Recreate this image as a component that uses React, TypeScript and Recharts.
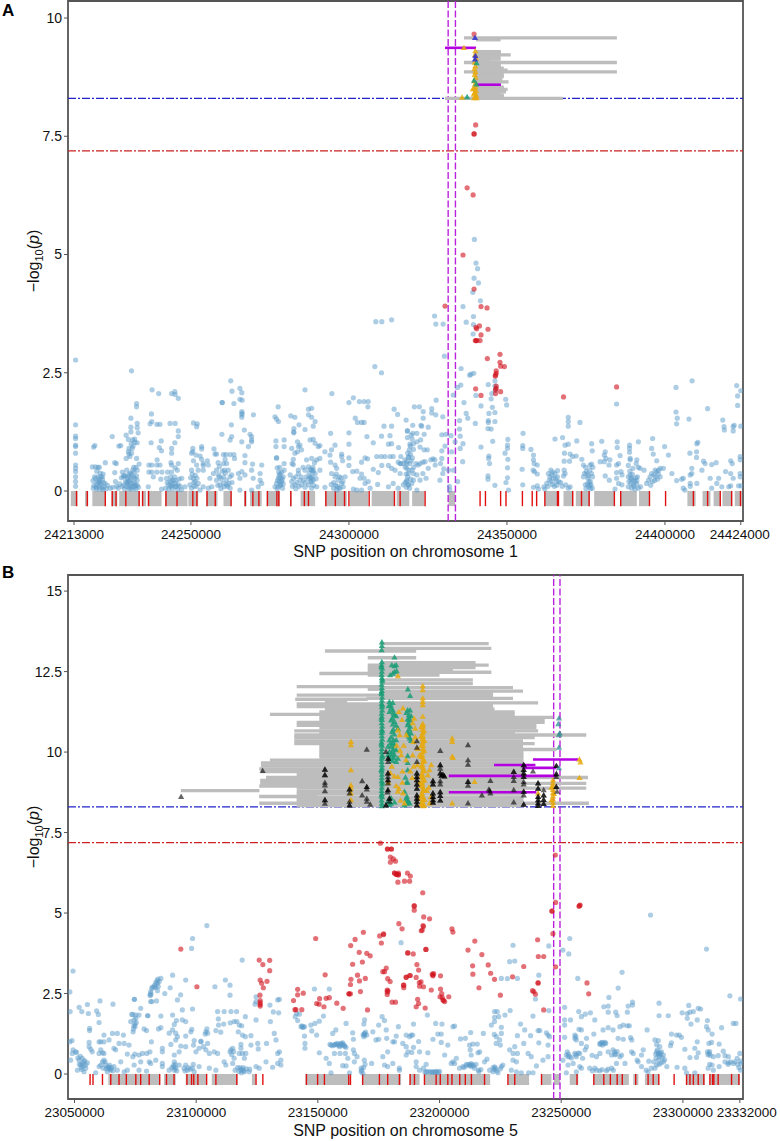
import React from "react";
import { ScatterChart, Scatter, XAxis, YAxis, ReferenceLine, ReferenceArea } from "recharts";

type P = number[];
const FONT = "'Liberation Sans', Arial, sans-serif";

// ---------- Panel A (chromosome 1) : positions are kb after chr1Start ----------
const chr1Start = 24213000;
const chr1Ticks = [24213000, 24250000, 24300000, 24350000, 24400000, 24424000];
const chr1YTicks = [0, 2.5, 5, 7.5, 10];
const chr1Blue: P[] = [
[.5,2.77],[.5,1.4],[.5,1.16],[.5,1.11],[.5,.97],[.5,.94],[.5,.8],[.5,.55],[.5,.48],[.5,.41],[.5,.3],[.5,.2],[.5,.1],
[5.8,.51],[6.8,.51],[7.6,.5],[8,.5],[6.2,.93],[6.6,.96],[7.2,.42],[8.3,.38],[9.2,.36],[9.9,.6],[6,.22],[6.3,.12],[6.8,.26],[7,.08],[7.4,.2],[7.8,.1],[8.1,.24],[8.5,.14],[8.8,.06],[9,.25],[9.4,.08],[9.8,.16],[10.2,.05],[10.6,.12],
[12.1,1.15],[14.2,.95],[14.8,.96],[12.9,.6],[13.4,.58],[12.9,.39],[13.1,.2],[13.5,.1],[14,.06],[14.5,.15],[15,.28],[15.3,.4],[15.8,.33],[16.3,.2],[16.6,.09],[17,.15],[17.4,.05],[17.5,.35],[11.5,.06],[12.3,.08],
[18.2,2.54],[19.8,1.85],[19.8,1.78],[18,1.54],[18,1.35],[18,1.25],[20,1.43],[20,1.34],[20.3,1.23],[16.5,1.18],[17.2,1.09],[18.6,1.08],[19.3,1.03],[20,1.02],[17.4,.9],[17.2,.83],[17.4,.78],[17.7,.73],[16.5,.69],[19.8,.69],[20.6,.57],[16.7,.44],[18.6,.44],[20,.44],[18.2,.34],[15.6,.3],[19.3,.27],[17.7,.23],[20,.23],[16.7,.18],[18.6,.16],[19.6,.13],[17.5,.09],[18.8,.06],[20.4,.08],
[24.7,2.14],[26.8,2.06],[30.9,2.06],[31.9,2.1],[32,2.04],[33,1.96],[24.5,1.63],[24.1,1.42],[24.6,1.47],[26.2,1.41],[27.2,1.41],[30.4,1.43],[32,1.43],[33,1.27],[33,1.15],[27.6,1.06],[24.4,1.02],[31.9,1.02],[27,.92],[27.7,.85],[30.9,.9],[30.9,.8],[26.3,.66],[23.7,.55],[24.6,.55],[26.2,.55],[27.2,.55],[30.7,.6],[30.9,.55],[33,.58],[23.7,.4],[24.6,.4],[26.2,.4],[27.8,.4],[29.6,.4],[30.9,.4],[32,.49],[32.7,.44],[27.5,.25],[29.3,.27],[30.4,.2],[31.4,.23],[32,.16],[33,.13],[29.9,.13],[30.9,.11],[34.1,.27],[32,.09],[25.1,.3],[23.5,.09],[27.7,.04],
[37.8,1.44],[39,1.42],[38.8,1.36],[37.6,.9],[37.6,.83],[37.2,.8],[40.4,.94],[40.4,.89],[38.6,.76],[39.9,.74],[40.4,.67],[37.8,.64],[42.2,.64],[40.9,.58],[38.8,.55],[37.2,.44],[40.9,.54],[42.5,.55],[39.3,.44],[40.9,.44],[37.8,.27],[38.3,.2],[36.7,.13],[37.2,.06],[35.1,.09],[39.3,.16],[40.9,.09],[39.9,.02],[42.5,.06],
[44.3,.89],[44.6,.78],[45.1,.78],[47.3,.77],[48.1,.77],[49.4,.77],[50.6,.77],[47.8,.67],[50.8,.69],[47.3,.58],[48.3,.58],[48.8,.44],[45.1,.44],[44.1,.37],[45.7,.34],[47.3,.3],[48.3,.23],[49.4,.3],[45.1,.23],[46.2,.13],[43,.27],[43.6,.09],[48.3,.13],[47.3,.16],[49.9,.34],
[49.6,2.33],[50,2.11],[52.5,2.17],[53.1,2.08],[46.9,1.87],[46.9,1.87],[50.6,1.85],[52.5,1.94],[53.2,1.92],[53.1,1.68],[53.1,1.61],[53.1,1.56],[53.2,1.64],[56.8,1.61],[49.8,1.4],[53.9,1.29],[46.8,1.2],[49.9,1.15],[49.4,1.08],[53.1,1.04],[55.7,1.2],[56.2,1.15],[56.2,1.08],[55.2,.94],[56.2,1.04],[54.1,.75],[54.1,.6],[56.5,.57],[59.4,.55],[56.2,.44],[53.1,.41],[54.1,.34],[52.5,.27],[52,.37],[56.7,.27],[58.9,.37],[58.9,.23],[59.4,.16],[58.3,.09],[56.2,.02],[52.5,.02],[49.4,.06],
[64.6,1.78],[63.6,1.57],[64.1,1.52],[64.7,1.47],[68.6,1.59],[69.9,1.56],[71.2,1.4],[73.1,2.14],[81.6,2.06],[74.2,1.73],[75.2,1.75],[74.2,1.61],[75.2,1.56],[76.3,1.47],[75.7,1.37],[73.1,1.3],[69.6,1.32],[69.6,1.23],[69.5,1.25],
[63.9,1.06],[66.5,1.08],[63.9,.94],[66.5,.94],[64.1,.7],[64.1,.7],[64.3,.49],[66.5,.58],[66.5,.44],[65.2,.36],[64.7,.27],[64.1,.16],[65.7,.2],[64.7,.09],[66.2,.3],[66,.06],[63.6,.09],[65,.2],[65.4,.12],[64.4,.22],
[68.9,.9],[69,.58],[69.4,.56],[69.9,.8],[70.7,.83],[69.4,.67],[68.4,.34],[68.9,.2],[69.4,.27],[69.9,.13],[71,.37],[71.5,.23],[72,.13],[71,.44],[73.6,.66],[74.2,.51],[75.2,.69],[75.7,.44],[76.8,.66],[76.3,.37],[74.7,.3],[75.7,.23],[74.2,.13],[76.8,.09],[75.2,.06],[77.8,.44],[73.1,.44],[70.7,1.04],[71,.94],[71.5,.97],[72,.87],[74.7,1.08],[75.7,1.09],[76.3,1.01],[77.3,.94],[77.8,.96],[79.4,.83],[77.8,.69],[75.2,.44],[75.6,.4],[75,.28],[74.9,.2],[75.8,.12],
[81.2,1.22],[82.6,.97],[81.5,.87],[81,.76],[84.7,.78],[84.7,.73],[85,.64],[81.2,.61],[82.6,.55],[83.1,.48],[81.5,.37],[82.6,.3],[83.6,.23],[84.7,.16],[82.1,.06],[84.2,.06],[85.2,.09],[79.4,.08],[85.8,.3],
[87,1.23],[87,.99],[87,.7],[87,.54],[88.4,1.97],[87,1.87],[90.3,1.89],[91.8,1.89],[93.1,1.89],[93,1.78],[89,1.54],[89.7,1.45],[91,1.45],[91.8,1.45],[92.7,1.15],[94.7,1.02],[91,.61],[92.1,.7],[92.9,.68],[88.2,.41],[89.5,.42],[91,.36],[91.8,.27],[90.5,.27],[93.1,.2],[92.1,.16],[88.4,.04],[89.5,.02],[91,.02],[93.7,.06],
[95.5,3.58],[97.4,3.58],[100.5,3.62],[95.2,2.63],[97.3,2.5],[98.1,1.37],[100.5,1.37],[97.3,1.16],[100,1.17],[99.5,.99],[100.5,1],[102.4,1.62],[101.3,1.73],[105.1,1.5],[105.5,1.27],[105.5,1.13],[102.7,.92],[95.8,.73],[97.2,.73],[98.4,.73],[100,.73],[101,.73],[103.4,.73],[94.7,.46],[96.3,.39],[97.4,.54],[99.5,.54],[100.5,.48],[101.6,.44],[102.6,.61],[103.4,.58],[103.2,.37],[104.7,.66],[105.3,.58],[105.3,.48],[105.8,.37],[105.3,.23],[104.2,.13],[105.8,.13],[102.6,.06],[101,.16],[99.5,.09],[96.1,.14],
[107.7,1.78],[109.3,1.78],[110.5,1.68],[110.5,1.54],[113.2,1.74],[113.2,1.65],[114.5,1.61],[110,1.37],[109.8,1.39],[105.5,1.27],[107.2,1.39],[107.2,1.22],[108.5,1.22],[109.7,1.08],[110.8,1.2],[112.1,1.35],[108.5,1.04],[106.3,.99],[107.4,1],[109.5,.93],[106.1,.87],[107.4,.88],[106.5,.78],[105.8,.71],[108.2,.58],[105.3,.62],[104.2,.58],[103.2,.58],[104.8,.51],[106.3,.58],[106,.44],[107.4,.37],[108.5,.34],[110.4,.37],[110.4,.61],[111.1,.62],[109.5,.58],[108.9,.55],[110.8,.87],[111.8,.87],[105.3,.2],[105.8,.13],[104.8,.18],[106.9,.16],[108.5,.02],[107.4,.23],[109.5,.23],[111.4,.27],[116.4,.85],[117.4,.95],[113.6,.68],[114.2,.66],[112.9,.66],[116.4,.69],[116,.58],[117,.47],[116.7,.37],[112.1,.48],[114.3,.55],[116.4,1.19],[117.7,1.2],[119.3,1.17],[120.6,1.04],[119.5,.83],[123,.62],[118.5,.44],[120.1,.44],[115.8,.23],[121.4,.2],[118.8,.1],[118.9,.02],[123.1,1.0],[122.2,1.16],[122.2,.9],
[114.1,3.7],[114.5,3.53],[116.8,3.53],[123.1,3.9],[126.4,3.69],[124.1,3.57],[126.4,3.52],[126.3,3.32],[117.2,2.85],[122.5,2.59],[126.5,2.49],[125.2,2.45],[125.6,2.47],[122.4,2.24],[121.3,2.19],[120,2.03],[114.6,1.92],[123.4,1.87],[124.1,1.64],[124.6,1.54],[122,1.49],[127,1.43],[122,1.31],[116.7,1.57],
[126.7,5.32],[127.2,4.82],[127.7,4.7],[126.6,4.5],[128,4.4],[128.6,4.02],[126.2,4.2],
[131.1,2.25],[133.2,2.33],[133.2,2.22],[133.3,2.13],[132.2,2.06],[127.2,2.02],[132,1.95],[128.8,1.8],[132.4,1.77],[136.6,1.94],[136.9,1.82],[131.3,1.64],[133.2,1.66],[131.1,1.49],[131.1,1.45],[133.2,1.47],[131,1.32],[132,1.31],[132.5,1.05],[128.8,.93],[131.3,.74],[131.2,.69],[131.5,.58],[131,.32],[131,.25],[133.2,.12],
[137.3,1.09],[137.2,.97],[137.2,.9],[136.4,.8],[137.3,.67],[137.2,.49],[137.2,.28],[136.7,.18],[137.5,.02],[142.1,1.22],[142,.96],[142,.9],[141.8,.46],[142,.13],[144.6,.88],[145.4,.76],[145.4,.66],[145.6,.58],[146.6,.55],[145.3,.44],[145.7,.41],[146.6,.36],[145.4,.08],[146.6,.11],[147,.04],
[150.1,.37],[150.6,.3],[151.2,.34],[151.7,.27],[152.2,.37],[152.7,.2],[150.4,.23],[153,.43],[153,.3],[155.1,.44],[155.4,.37],[154.9,.32],[155.6,.13],[156.4,.06],[157,.09],[149.6,.16],[148.7,.09],[149,.04],[152.2,1.1],[154.6,1.13],[155.4,.97],[156.4,.99],[155.2,.8],[157,.78],[157.8,.73],[158.9,.74],[155.1,.63],[156.8,.63],[159.1,1.06],[156.4,1.37],[156.4,1.47],[156.4,1.56],[160.1,1.45],[160.7,.67],[161.2,.55],
[163.8,1],[164,.85],[163.3,.55],[163.8,.57],[161.5,.37],[162.1,.41],[163.2,.44],[163.8,.37],[164.1,.3],[162.6,.27],[161.2,.3],[161.8,.13],[162.9,.09],[163.6,.13],[164,.06],[163.4,.2],
[167,1.05],[168.1,.83],[167.8,.76],[168.3,.69],[167.8,.62],[169.6,.66],[166.5,.62],[169.3,.55],[168.1,.32],[169.4,.23],[171.9,1.04],[171.9,.92],[172.8,.75],[172.3,.58],[171.7,.55],[173.1,.41],[171.7,.39],[171.7,.27],[172.3,.16],[173.4,.13],[171.2,.04],[173.4,.34],[171.7,1.84],
[175.8,.97],[175.8,.9],[175.8,.82],[176,.69],[176,.66],[178.6,1.04],[175.4,.54],[178.1,.66],[177.9,.58],[178.6,.5],[179.1,.48],[176,.34],[175.4,.3],[176.5,.27],[177,.23],[177.5,.2],[176.2,.16],[175.4,.09],[178.1,.15],[178.6,.06],[177,.13],[179.3,.09],[180.4,.44],
[183.1,1.11],[182.8,.9],[183.3,.78],[186.9,.94],[188.1,.76],[184.4,.64],[183.9,.44],[184.4,.41],[183.5,.34],[182.8,.37],[182.3,.3],[181.8,.23],[181.2,.16],[185.5,.48],[186.5,.48],[189.2,.37],[190.5,2.19],[195.6,2.33],[190.5,1.67],[190.9,1.54],[190.7,1.42],[194.6,1.52],[200.5,1.74],
[194.9,.8],[197,.83],[197,.71],[197.1,1],[197.4,1.03],[195.5,.48],[195.5,.37],[195,.34],[192.8,.27],[192.3,.25],[190.7,.22],[193.3,.02],[192.8,.06],[195,.16],[195,.1],[197.1,.16],[199.2,.63],[198.7,.44],[199.7,.58],[201.8,.06],[201.8,.56],[203.2,.6],[201.3,.27],[204,.27],[206.2,.41],[207.8,.37],[207.8,.64],[208.3,.58],[210.8,.73],[210.8,.66],[210.8,.37],[210.8,.3],[208.6,.27],[207.8,.11],[210.3,.11],[211.1,.11],[207.2,.09],[205,.09],[203.4,.16],
[205.3,1.5],[205.7,1.36],[205.8,1.29],[208.6,1.36],[208.9,1.39],[208.6,1.27],[211,1.37],[209.7,2.23],[211,2.12],[210,2.01],[210,1.81]
];
const chr1BlueDense: P[] = [
[6.5,.3],[7.2,.14],[7.6,.3],[8.2,.17],[8.9,.3],[9.3,.18],[6.1,.06],[7.1,.04],[8,.04],[9.2,.03],[8.4,.3],[7.9,.2],
[15.2,.1],[15.8,.12],[16,.04],[16.2,.32],[16.9,.3],[17.2,.2],[17.9,.15],[18.1,.26],[18.4,.1],[18.9,.3],[19.1,.18],[19.3,.1],[19.8,.32],[20,.12],[19.6,.04],[18,.04],[17,.26],[17.8,.38],[19,.4],[19.6,.5],[18.9,.5],
[18.4,.9],[18.1,1.0],[18.7,.95],[18.2,.8],[19.2,1.1],
[29.5,.18],[30,.04],[30.6,.3],[30.9,.22],[31.2,.14],[31.8,.3],[32.3,.22],[32.5,.1],[33.2,.25],[33.6,.1],[30.5,.1],[29,.06],[31.2,.05],[32.8,.03],[34,.03],
[37.4,.36],[37.9,.18],[38.4,.33],[38.9,.27],[38,.1],[36.9,.28],[38.7,.1],
[45.5,.12],[46,.3],[46.6,.25],[46.9,.42],[47.6,.44],[47.9,.38],[46.5,.05],[48.6,.1],[47.5,.09],[49,.16],[50,.18],[46,.52],[45.6,.6],
[64.9,.32],[65.5,.28],[65.1,.5],[65.3,.14],[64.3,.05],[65.7,.4],[66.2,.15],[65.9,.24],[64.8,.4],
[69.1,.1],[70.2,.3],[70.5,.18],[71.2,.1],[71.9,.3],[72.6,.22],[73.2,.18],[73.5,.3],[74.2,.26],[74.4,.38],[74.8,.46],[75.4,.3],[75.2,.2],[75.6,.5],[76.1,.6],[76.6,.26],[72.5,.5],[73.1,.08],[70.2,.05],
[82.2,.18],[82.8,.12],[83.3,.1],[83.8,.06],[84.5,.28],[84,.3],[83,.36],[83.1,.02],[85.1,.2],[81.4,.14],
[105.1,.36],[105.6,.3],[105.2,.08],[106.2,.06],[106.5,.25],[107,.44],[107.5,.5],[106.7,.64],[105.9,.72],[107.1,.7],[105.6,.8],[106.4,.95],[107,1.1],[106.7,1.18],
[151,.2],[151.4,.14],[150,.1],[150.9,.44],[152,.1],[152.4,.27],[152.8,.12],[153.4,.2],[154,.18],[154.5,.1],[151.5,.4],
[161.9,.5],[162.4,.36],[162.8,.32],[163,.2],[162.5,.15],[163.2,.12],[162,.05],[163.4,.05],[164.2,.5],
[175.6,.2],[176.2,.25],[176.7,.35],[177.2,.1],[177.8,.28],[176.4,.06],[177.5,.04],[178.3,.3],[175.9,.42],[176.9,.48],[178.1,.22],
[184,.3],[184.6,.25],[184.9,.36],[183.7,.22],[183,.2],[185,.44],[185.5,.3],[182.5,.12]
];
const chr1Red: P[] = [
[126.6,9.66],[127.1,7.74],[126.6,7.55],[126.6,7.55],[124.4,6.41],[126.3,6.26],[123.1,4.99],[126.6,4.27],[117.4,3.91],[128.8,3.9],[130.7,3.87],[127.2,3.46],[128.3,3.49],[127.4,3.43],[131,3.42],[128.8,3.3],[127,3.18],[127.5,3.18],[127.2,3.18],[128.5,3.18],[130.8,2.8],[134.8,2.89],[134.8,2.72],[135,2.64],[136.2,2.63],[133.6,2.54],[133.6,2.49],[133.4,2.45],[133.3,2.43],[133.6,2.22],[133.6,2.17],[133.4,2.14],[133.4,2.06],[135,2.1],[127.1,2.16],[128.8,2.02],[154.9,1.99],[171.7,2.2]
];
const chr1Orange: P[] = [[127,9.3],[126.9,9.22],[127.2,9.15],[126.8,9.06],[127,8.98],[126.7,8.92],[127,8.86],[126.8,8.8],[127.1,8.74],[126.7,8.67],[126.9,8.6],[127,8.54],[126.6,8.5],[127.2,8.46],[126.8,8.42],[126.5,8.39],[127.3,8.36],[127,8.33],[126.6,8.31],[127.4,8.31],[123.4,9.37],[122.8,8.32],[126.2,8.5]];
const chr1Green: P[] = [[127.4,9.05],[127.3,8.6],[124.4,8.33],[126.6,8.68]];
const chr1Navy: P[] = [[126.9,9.58],[126.9,9.13],[127,9.2]];
const chr1Ld: P[] = [
[9.58,123.4,171.8],[9.54,127.2,135],[9.29,127.2,135.1],[9.25,127.2,135.1],[9.22,127.2,138.2],[9.17,127.2,135],[9.13,127.2,135],[9.1,126.9,131.5],[9.06,123.4,171.8],[9.03,127.2,135],[9,127.2,135],[8.97,127.2,135],[8.94,127.2,136],[8.9,127.2,137.2],[8.86,123.4,171.8],[8.82,127.2,136],[8.79,127.2,136],[8.76,127.2,136],[8.71,127.2,135.5],[8.68,127.2,135.5],[8.65,127.2,137.5],[8.62,127.2,135],[8.57,127.2,135],[8.54,127.2,136],[8.52,127.2,136],[8.49,127.2,137.2],[8.47,127.2,135],[8.44,127.2,136.7],[8.42,127.2,135],[8.4,127.2,132],[8.37,127.2,136],[8.35,127.2,136],[8.32,127.2,135],[8.3,117.4,154.7]
];
const chr1Purple: P[] = [[9.37,117.4,127.2],[8.59,127.2,135.1]];
const chr1Dash = [118.4, 120.7];
const chr1Blocks: P[] = [[-1,1.1],[3.5,4.5],[5.8,10],[11.9,13.7],[14.3,20.9],[21.6,22.8],[23.3,27.7],[28.8,35.9],[36.2,39.3],[41.8,45.4],[47.3,49.9],[53.8,54.6],[55.7,59.4],[61,65.2],[68.4,68.9],[71.7,76.3],[79.4,86.3],[87.3,93.1],[94.2,101.3],[102.1,106.1],[107,110.9],[118.5,120.6],[149,153.3],[154.9,158],[158.8,163.3],[164.6,171.2],[173,178.1],[178.8,182.3],[194.1,196.7],[198.9,201.4],[202.4,204.7],[205.2,208.3],[209.1,211.3]];
const chr1Marks = [.8,4.2,9.9,12.1,13.3,16.4,20.6,21.7,23.6,29.1,32.6,37.6,38.9,42.1,44.7,49.7,54.2,56.6,58.5,61.2,64.2,64.8,68.6,72.9,74.2,79.7,82.7,85.6,87,93.4,101.4,103.2,111.1,128.5,130.2,135,136.7,141.9,145,146.4,149,153,153.3,157.8,160.6,163,171,173,182.1,187.2,196,200.5,204.5,208.1,210.9];

// ---------- Panel B (chromosome 5) : positions are kb after chr5Start ----------
const chr5Start = 23050000;
const chr5Ticks = [23050000, 23100000, 23150000, 23200000, 23250000, 23300000, 23323400];
const chr5TickLabels = ["23050000", "23100000", "23150000", "23200000", "23250000", "23300000", "23332000"];
const chr5YTicks = [0, 2.5, 5, 7.5, 10, 12.5, 15];
const chr5Blue: P[] = [
[-.6,3.2],[-1.9,2.55],[-1.8,1.94],[1.9,2.07],[3,1.94],[5.3,2.16],[5.7,1.88],[9.1,1.96],[9.8,1.85],[10.5,2.27],[15.8,2.17],[10.1,1.6],[6.2,1.42],[6.2,1.35],[-1,1.04],[-1.9,1],[-.6,.75],[.5,.69],[-.9,.64],[.8,.67],[-1.6,.43],[6,.98],[6,.85],[6.7,.77],[7.3,.69],[10.1,1],[10.8,1],[12.1,1],[10.8,.75],[10.1,.64],[11.5,.66],[12.1,.64],
[1.9,.43],[3.2,.49],[3.9,.38],[2.5,.28],[4.6,.28],[3.2,.33],[1.2,.12],[3.9,.07],[5.3,.35],[4.6,.18],[11.5,.38],[12.1,.43],[10.8,.28],[12.8,.28],[14.2,.18],[14.9,.12],[16.2,.23],[13.5,.07],[19,.38],[17.6,.12],[20.4,.07],[21.7,.12],[8.7,.04],[10.1,.23],[14,.22],[14.6,.15],
[12.1,1.21],[15.6,1.26],[17.6,1.26],[20.1,1.21],[14.2,1.06],[16.2,.8],[16.9,.75],[18.3,.95],[20.4,.95],[22.4,.9],[21.7,.62],[24,.54],[24.5,.28],[26.5,.59],[27.2,.38],[27.9,.64],[29.7,.64],[31,.69],[31.3,.33],[29.6,.09],[26.5,.12],
[24.6,2.32],[24.6,2.32],[27.2,2.04],[23.5,1.85],[25.2,1.83],[26.5,1.83],[24,1.85],[23.1,1.63],[24.5,1.68],[25.2,1.73],[24.9,1.47],[24.1,1.31],[30.2,1.81],[30,1.81],[28.6,1.4],[29.6,1.35],[31.6,1],
[40.3,3.07],[45.7,2.92],[39.3,2.68],[43.6,2.46],[42.3,2.3],[37.1,2.5],[31.3,2.45],[31,2.45],[31.3,2.56],[31.8,2.66],[32.7,2.71],[33.4,2.84],[34.1,2.82],[34.8,2.87],[33.4,2.69],[34.1,2.59],[35.5,2.97],[31.8,2.25],[31.3,2.25],[33.7,2.27],
[35.5,1.8],[40.3,1.83],[41.9,1.66],[41,1.54],[44.3,1.99],[44.3,1.68],[45.7,1.63],[48.5,2.02],[48.2,1.39],[47.8,1.31],[45.7,1.18],[42.3,1.16],[41.6,1.06],[35.5,1.44],[34.5,1.4],[40.3,1.37],[38.9,1.27],[41.6,1.27],
[36.1,.8],[36.1,.69],[39.6,.92],[41,.59],[43,.69],[43.7,.87],[45.7,.85],[49.2,1.04],[48.9,.9],[49.9,.69],[51.2,.8],[51.9,1.02],[54.7,.95],[54,.75],[55.4,.64],[58.8,.64],[57.4,.69],[36.1,.33],[33.4,.43],[30.7,.38],[41,.38],[41.6,.18],[41,.12],[45,.18],[46.4,.12],[48.5,.18],[49.2,.07],[38.9,.12],[36.1,.23],[43,.28],[45.7,.28],[51.2,.23],[55.4,.18],[58.1,.12],
[54,1.31],[53.7,1.24],[54.7,1.27],[58.8,1.94],[61.5,1.94],[64.3,1.94],[66.6,1.94],[59.2,1.52],[61.3,1.55],[64,1.59],[65.6,1.63],[66.7,1.63],[67.7,1.52],[68.7,1.5],[59.1,1.71],[58.1,1.35],[60.1,1.3],[62,2.92],[63.9,2.76],[63.9,2.45],[57.7,2.71],[70.2,1.78],[68.9,3.54],[48.5,4.21],[48.1,3.9],[54.4,4.61],
[67.3,1.31],[69,1.21],[70.2,1.16],[72.5,1.19],[68.4,.92],[68.4,.8],[72.5,.9],[75.3,.95],[75.5,.78],[78.9,.95],[67.7,.64],[64.3,.75],[65,.8],[63.9,.69],[65.6,.49],[69,.64],[70.4,.64],[69.8,.49],[65,.33],[62.2,.28],[61.5,.38],[68.4,.12],[69.8,.07],[71.8,.07],[74.6,.23],[75.9,.18],[78.7,.38],[81.4,.21],[83.5,.33],[84.8,.43],[84.8,.28],[84.2,.69],[83.5,.64],[82.8,1.06],[82.1,1.26],[68.8,.15],[69.3,.2],
[74.6,2.4],[74.6,2.25],[74.2,2.17],[84.2,2.32],[83.5,2.3],[80.3,2.14],[81.7,1.93],[83.9,1.9],[80.5,1.63],[74.6,1.68],
[91.3,1.88],[90.7,1.78],[91.7,1.66],[93.1,1.47],[93.8,1.45],[94.5,1.47],[97.1,1.52],[98.8,1.57],[100.6,1.64],[94.5,1.18],[97.5,1.34],[99.5,1.21],[94.7,.95],[94.7,.8],[100.6,.66],[104.7,2.64],[98.6,2.64],[102.3,1.8],[92.4,1.86],
[105.4,.9],[106.8,.9],[108.2,.9],[109.1,.93],[109.9,.9],[110.9,.88],[111.6,.83],[110.2,.97],[108.9,.85],[107.5,.93],[103.4,.49],[104.7,.33],[105.4,.04],[106.1,1.26],[107.4,1.37],[106.8,.64],[109.1,.64],[111.3,.64],[112.3,.49],[110.2,.26],[111.6,.25],[114.3,1.28],[114.6,1.08],[114.6,.75],[115,.64],[116.1,.54],[115,.38],[113,.04],[111.6,1.57],[119.2,1.68],[118.9,1.55],[120.1,1.21],[119.2,1.26],[119.2,1.21],[118.9,1.16],
[117.8,.07],[117.8,.18],[118.5,.02],[119.1,.43],[122.1,.33],[123.9,1.06],[125,1.08],[122.6,1.31],[125,1.52],[126.4,1.78],[127.4,1.66],[128.1,1.37],[128.3,1.11],[130.8,1],[131.5,1],[132.2,1.18],[134.2,4.08],[126.7,.54],[128.7,.69],[127.4,.28],[128.7,.23],[130.8,.33],[133.5,.18],[133.5,.12],[136.3,1.21],[137.7,1.16],[133.1,1.47],[136.3,.85],[137,.69],[134.9,.95],[136.3,.59],
[145,1.83],[139.3,1.55],[148.4,1.57],[151,1.55],[155.5,1.47],[156.2,1.49],[138.3,1.21],[139,1.21],[149.3,1.24],[150.7,1.24],[162.8,1.29],[168,1.26],[172.5,1.23],[175.4,1.26],[173.3,1.16],[174.7,1.06],[173.3,.95],[175,.9],
[139.3,.83],[138.6,.67],[141.4,1.01],[141.8,.69],[145.2,.66],[140.4,.38],[144.5,.3],[143.4,.18],[141.8,.12],[140.4,.23],[147.3,1.08],[150.7,.98],[153.4,.9],[152.1,.59],[155.5,.38],[156.9,.49],[156.2,.33],[154.8,.33],[158.6,1.09],[160.6,1.11],[162.3,.9],[163.7,.93],[165.5,.93],[162.6,.75],[163,.59],[165.8,.66],[166.5,.69],[169.5,.46],[168.5,.38],[162.3,.28],[163,.23],[164.4,.18],[158.2,.18],[159.6,.23],[166.2,.07],[172.6,.14],[172,.07],[175.4,.23],[176,.28],[174,.04],[170.6,.12],
[146,.07],[147,.07],[148,.07],[149,.06],[150,.08],[160,.2],[161,.25],[162,.3],[163,.32],[164,.26],[172,.2],[173,.18],
[172.6,1.94],[173.7,1.94],[172.6,1.76],[174.3,1.78],[176.9,1.83],[179,1.97],[171.3,1.52],[172.6,1.63],[175.4,1.45],[180.2,4],[178.8,3.49],[180.9,3.51],[175.4,2.97],[177.9,2.96],[182,2.97],[183.3,1.55],[185,1.37],[182,1.19],[187.4,1.19],[190.5,1.35],[191.2,1.35],[193.9,1.28],[194.6,1.21],[195.2,1.16],[188.4,1.8],[189.4,2.33],[190.8,3.07],[194.9,3.98],[194.9,1.97],[178.8,.75],[180.9,.85],[180.2,.64],[182,.64],[180.2,.43],[181.6,.38],[186.4,.64],[187.7,.54],[189.8,.25],[192.5,.43],[194.6,.54],[190.8,.97],[194.6,.9],[184.6,.95],[186.6,.04],[181.6,.07],[179.5,.12],[183.6,.04],[188.4,.04],
[203.5,4.21],[200.7,3.85],[203.1,3.73],[206.8,2.97],[201.4,2.07],[201.4,1.68],[201.4,1.52],[203.8,1.68],[201.4,1.14],[205.6,1.21],[206,1.16],[207.2,1.94],[208.3,1.78],[209.9,1.86],[212,1.9],[213.8,1.68],[207.3,1.39],[208.3,1.37],[210.4,1.11],[213.4,1.24],[208.3,.95],[205.6,1.11],[206.2,1.06],[202.5,.69],[202.1,.59],[205.6,.64],[200.7,.43],[202.8,.54],[206.2,.54],[210.4,.85],[209.8,.75],[212.7,.58],[207.6,.64],[208.8,.49],[204.9,.33],[202.8,.28],[207.6,.23],[206.2,.07],[202.1,.04],[208.3,.18],
[215.9,.95],[216.5,.97],[217.5,.95],[218.3,.95],[219.3,2.11],[219.6,2.38],[223.4,2.67],[225,3.16],[217.5,2.09],[219.3,1.92],[222.4,1.92],[223,1.81],[227.2,1.92],[227.5,2.11],[229.3,2.23],[229.3,2.14],[224.1,1.47],[225.5,1.52],[227.2,1.5],[228,1.5],[221.3,1.37],[219.3,1.44],[217.2,1.37],[235.3,1.37],[240.2,2.2],[240.2,1.81],[244,1.81],[223.4,1.11],[225.5,1.08],[228.5,1.13],[229,1.06],[221.3,.75],[222,.69],[219.3,.69],[220.7,.59],[215.9,.64],[214.5,.54],
[228.9,.69],[229.6,.64],[224.8,.59],[224.1,.54],[226.2,.33],[222.7,.33],[220.7,.18],[218.6,.1],[215.9,.1],[213.8,.18],[211.7,.18],[221.4,.12],[233,.59],[231.2,.43],[233.7,.75],[231.6,.38],[233,.23],[234.9,.12],[235.7,.07],[237,.18],[238.5,1.06],[239.9,1.04],[239.2,.92],[240.5,.85],[239.2,.69],[239.9,.64],[241.2,.69],[242,.59],[240.5,.54],[239.9,.43],[242,.38],[243.4,.23],[239.2,.28],[238.5,.18],[245.3,1.24],[247.4,1.21],[248.5,1.21],[249.4,1.14],[245.3,.97],[244.9,.88],[250.8,.77],[252.9,.51],[255.6,.52],[255.9,1],[254.9,.8],[256.3,.66],[247.6,.21],[250.8,.18],[251.5,.04],[254.9,.04],
[249.7,1.9],[251.8,1.88],[252.9,1.92],[254.3,1.94],[252.4,2.13],[256.3,2.04],[257.3,2.02],[251.8,1.73],[253.3,1.55],[255.9,1.68],[260.1,1.66],[259.7,1.47],[260.4,1.37],[265.9,1.44],[262,1.24],[269.3,2.43],[273.7,2.33],[259.7,3.88],[236.7,4.94],[270.7,1.57],[271.8,1.57],[260.7,.95],[261.8,.98],[264.9,.93],[260.1,.69],[260.8,.64],[262.5,.54],[264.5,.57],[266.6,.71],[267.3,.57],[268.7,.54],[273.4,.64],[272.3,.49],[271.4,.38],[274,.33],[267.3,.38],[264.9,.23],[260.4,.18],[262.5,.12],[268.7,.35],[270.7,.33],[273.7,.12],
[144,.06],[145,.08],[166,.12],[167,.14],[236,.4],[238,.38],[261,.3],[262,.28]
];
const chr5BlueDense: P[] = [
[2,.3],[2.8,.2],[3.6,.25],[4.2,.42],[1.4,.5],[2.4,.55],[3,.14],[13,.16],[13.6,.2],[14.4,.28],[15.2,.2],[15.8,.1],[12.6,.38],[11.8,.18],[24.8,.62],[41,.22],[41.4,.3],[40.6,.26],[42,.1],[40,.2],
[45.4,.1],[46.8,.2],[47.6,.15],[48.8,.3],[66,.12],[67,.2],[68,.2],[69.5,.1],[70.6,.16],[67.6,.08],[68.6,.04],[72,.15],
[24.2,1.4],[24.8,1.55],[25.4,1.6],[24.4,1.5],[31.4,2.5],[32,2.7],[33,2.76],[34.4,2.72],[33.9,2.9],[34.3,2.95],[52,1],[53,.85],[54.4,1.4],[64.6,.6],[65.4,.7],
[93.4,1.5],[94,1.46],[105,.92],[106,.88],[107,.92],[108,.95],[109,.88],[110.4,.92],[111,.86],[109.6,.95],[118,.12],[118.8,.2],[119.4,.3],[119,1.24],[119.6,1.3],[118.6,1.22],
[144.5,.06],[146.6,.06],[147.6,.05],[148.6,.08],[149.6,.05],[161,.3],[162.7,.27],[163.5,.29],[165,.3],[172.6,.22],[173.5,.1],[175,.16],
[203,.62],[203.5,.54],[204.2,.5],[206,.6],[207,.65],[212.8,.1],[214.6,.12],[216.8,.14],[219.2,.15],[216,.92],[217,.9],[218,.98],[216.8,.98],[222.4,.62],[223,.7],[222,.6],
[239.5,.75],[240,.6],[240.8,.62],[241.5,.5],[241,.34],[242.5,.44],[239,.5],[240.2,.3],[240.5,.66],[238.8,.62],[261.2,.58],[261,.7],[260.3,.6],[268.6,.3],[269.6,.38],[273.6,.4],[272.5,.3],[273,.2]
];
const chr5Red: P[] = [
[43.7,3.88],[50.3,2.71],[75.9,3.54],[77.4,3.4],[80.2,3.53],[80.2,3.21],[76.3,2.92],[76.9,2.82],[79.1,2.88],[77.6,2.68],[76.2,2.45],[76.3,2.28],[76.3,2.22],[76.3,2.16],[76.3,2.11],
[90,2.28],[91.7,2.63],[91.7,2.46],[94,2.51],[90.6,2],[91,2],[93.4,2],[100.7,2.34],[99.5,2.19],[100.5,2.17],[102.5,2.09],[103.4,2.35],[104.7,2.37],[103,3.08],[99.1,4.21],[107.8,2.2],[110.4,2.04],[112.8,2.49],[112.8,2.49],[113.4,2.49],[113.4,2.78],[113.6,2.94],[117.5,2.56],[117.1,2.89],[119.5,2.97],[116.3,3.07],[114.3,3.41],[113.5,3.99],[115.3,4.18],[117,3.78],[118.7,4.4],[118.3,3.48],[120.1,3.75],[121.5,3.67],[120.4,1.99],
[125.4,4.29],[127,4.35],[127,4.33],[126.1,4.07],[126.7,3.18],[127.4,3.18],[128.1,3.29],[128.7,2.96],[129.7,2.87],[128.5,2.61],[128.5,2.55],[128.5,2.47],[128.8,2.58],[130.5,2.23],[131.9,2.23],[133.3,4.67],[134.6,4.51],[136.9,3.76],[136.3,3],[137.7,3.06],[135.3,2.76],[135.3,2.68],
[143.1,5.63],[139.6,5.22],[139.6,5.22],[139.6,5.09],[143.5,4.88],[145.9,4.82],[143.2,4.61],[143.4,4.58],[142.5,4.45],[142.9,4.47],[155.1,4.51],[155.5,4.41],[144.4,3.87],[144.4,3.87],[137,3.76],[139.2,3.73],[140.7,3.4],[141.4,3.23],[136.3,3.01],[138,3.06],[140.4,3],[147,3.1],[147.3,3.05],[147.6,3.12],[147.3,3.08],[150.4,3.05],[142.4,2.86],[141.7,2.84],[141.8,2.73],[143.4,2.71],[146.6,2.61],[150.4,2.64],[150.9,2.5],[150.2,2.4],[151.1,2.38],[151.4,2.3],[152.1,2.25],[151.7,2.28],[153.8,2.4],[141,2.32],[141.4,2.19],[140.4,2.09],[144.1,2.05],[135.2,2.76],
[161.7,3.85],[164.5,4.13],[167.4,3.71],[163.6,3.36],[170,3.39],[163.7,3.1],[171,3.13],[172.6,2.94],[166.2,2.68],[175,2.45],[180,3.02],[184.6,3.34],[190.3,4.17],[190.6,3.65],[192.8,3.65],[190.5,2.82],[190.5,2.84],[188.2,2.59],[188.7,2.56],[189.4,2.48],[192.8,1.99],[196.2,5.06],[196.2,5.06],[197.7,5.33],[196.6,4.36],[197.7,3.33],[207.3,5.21],[207.8,5.25],[207.5,5.23],[210.6,2.83],[211.3,2.49],
[125.7,7.17],[128.6,6.99],[130.2,6.99],[129.8,6.74],[131,6.68],[129.8,6.58],[131.9,6.61],[131.5,6.24],[132.3,6.2],[133.1,6.24],[133.1,6.18],[136.8,6.24],[138,6.15],[132.9,5.96],[135.6,5.99],[137.7,5.99],[197.6,6.8],
[128.6,6.99],[130.2,6.99],[131.5,6.24],[132.3,6.2],[133.1,6.2]
];
const chr5Green: P[] = [
[126.3,13.41],[126.3,13.3],[126.2,13.17],[126.3,12.8],[126.2,12.7],[126.4,12.6],[126.3,12.5],[126.2,12.4],[126.3,12.3],[126.4,12.2],[126.2,12.1],[126.3,12],[126.3,11.9],[126.2,11.8],[126.4,11.7],[126.3,11.6],[126.2,11.5],[126.3,11.4],[126.4,11.3],[126.2,11.2],[126.3,11.1],[126.3,11],[126.2,10.9],[126.4,10.8],[126.3,10.7],[126.2,10.6],[126.3,10.5],[126.4,10.4],[126.2,10.3],[126.3,10.2],[126.3,10.1],[126.2,10],[126.4,9.9],[126.3,9.8],[126.2,9.7],[126.3,9.6],[126.4,9.5],[126.2,9.4],[126.3,9.3],[126.3,9.2],[126.2,9.1],[126.4,9],[126.3,8.9],[126.2,8.8],[126.3,8.7],[126.4,8.6],[126.2,8.5],[126.3,8.4],[126.3,8.32],
[126.1,12.65],[126.5,12.25],[126.1,11.85],[126.5,11.45],[126.1,11.05],[126.5,10.65],[126.1,10.25],[126.5,9.85],[126.1,9.45],[126.5,9.05],[126.1,8.65],
[131.5,12.94],[130.4,12.7],[132.2,12.7],[131.5,12.67],[130.8,12.44],[129.7,12.39],[131.5,12.49],[132.4,12.52],[137,11.95],[137.9,11.75],
[129.4,11.56],[130.8,11.53],[129.1,11.43],[130.1,11.36],[129.4,11.25],[130.8,11.3],[131.5,11.15],[132.2,11.12],[130.1,10.99],[131.5,10.94],[130.8,10.86],[132.2,10.82],[132.9,10.73],[130.5,10.63],[130.1,10.46],[129.4,10.37],[131.1,10.37],[132.2,10.37],[128.8,10.17],[130.1,10.17],[131.5,10.22],[129.4,10.01],[130.8,10.01],[132.2,10.06],[128.8,9.91],[130.1,9.86],[131.5,9.91],[132.9,9.8],[130.8,9.73],[132.2,9.7],
[130,11.45],[131,11.2],[130.6,11.05],[131,10.7],[131.4,10.55],[130.8,10.28],[129.8,10.27],[131,10.1],[130.2,9.95],[131.2,9.82],[129.6,9.78],
[136.9,11.3],[137.9,11.3],[137.4,11.15],[138.3,11.12],[136.9,11.01],[137.9,10.99],[136.9,10.84],[137.9,10.79],[136.9,10.63],[138.3,10.58],[137.4,10.48],[138.3,10.35],[136.9,9.88],[136.9,9.67],[136.9,9.44],[136,9.21],[136.9,9.05],[135.6,8.77],[136.9,8.51],[137.7,8.41],[135.6,8.35],[136.3,8.56],[128.8,8.47],[130.1,8.57],[131.5,8.44],
[136.4,11.22],[137.5,11.05],[137.2,10.9],[137.6,10.7],[137.1,10.55],[137.8,10.42],[136.4,9.05],[136.6,8.62],[137.2,8.45],[136.6,8.4],[130,8.4],[129.4,8.36]
];
const chr5Teal: P[] = [[199.1,11.05],[198.8,10.87],[199.1,10.53],[199.1,10.14],[199.1,9.5],[199.4,10.58]];
const chr5Orange: P[] = [
[143.1,11.93],[143.1,11.67],[143.1,11.56],[143.1,11.46],[143.1,11.1],[143.1,10.88],[143.3,10.8],[142.9,10.7],[143.1,10.6],[143.2,10.5],[142.9,10.4],[143.1,10.3],[143.3,10.2],[143,10.1],[143.1,10],[142.9,9.9],[143.2,9.8],[143.1,9.7],[143,9.6],[143.2,9.5],[143.1,9.4],[142.9,9.3],[143.2,9.2],[143.1,9.1],[143,9],[143.2,8.9],[143.1,8.8],[142.9,8.7],[143.2,8.6],[143.1,8.5],[143,8.4],[143.2,8.32],
[142.5,10.78],[143.7,10.65],[142.4,10.48],[143.8,10.35],[142.5,10.2],[143.7,10.05],[142.4,9.85],[143.8,9.72],[142.5,9.55],[143.7,9.42],[142.4,9.25],[143.8,9.12],[142.5,8.95],[143.7,8.82],[142.4,8.65],[143.8,8.52],[142.5,8.38],[143.7,8.34],
[207.5,9.77],[207.9,9.68],[207.5,9.2],[196.6,9.13],[196.6,9.03],[196.6,8.93],[196.6,8.83],[196.6,8.73],[196.6,8.63],[196.6,8.53],[196.6,8.43],[196.6,8.33],[196,8.9],[197,8.7],[196,8.5],[190.5,8.72],[155.2,10.42],[155.2,10.32],[155.2,9.86],[155.5,9.82],[164.4,9.08],[155.2,8.41],
[113.6,10.32],[113.6,10.22],[113.6,9.44],[113.6,8.97],[113.6,8.87],[113.6,8.72],[113.6,8.51],[132.9,12.36],[135,11.36],[133.3,11.25],[132.9,10.68],[133.6,10.53],[140,10.73],[140,10.46],[139.3,10.32],[139.6,11.04],[136.3,10.53],[134.3,9.91],[132.9,9.23],[133.3,8.87],[132.9,8.77],[135,8.72],[145.9,9.44],[145.2,9.28],[135.6,8.41],[145.9,8.41],[138,9.4],[141,10.1],
[143.1,12.05],[139,10.9],[134.6,11],[132.4,10.2],[133.8,10.05],[134.8,9.4],[131.4,9.25],[130.4,9.55],[129.8,9.35],[129,9.05],[132.2,8.95],[134,8.5],[139,9.9],[139.4,9.55],[138.8,9.2],[140.9,9.6],[141.8,9.9],[141.9,9.05],[141.6,8.55],[146.6,9.6],[145.6,8.9],[146.4,8.6],[144.8,8.8],[134.7,9.05],[135.3,10.2],[136.2,9.75]
];
const chr5Black: P[] = [
[43.8,8.61],[77.3,9.42],[102.9,9.46],[102.9,9.46],[102.9,9.29],[102.9,9.05],[102.9,8.97],[102.9,8.79],[102.9,8.51],[102.9,8.4],[102.9,8.51],[102.9,9.29],[113,8.46],[113,8.35],[113,8.35],[113,8.84],[113,8.72],[113,8.84],[120.1,10.08],[118.2,9.1],[120.1,8.92],[120.1,8.84],[118.2,8.66],[120.1,8.56],[120.1,8.46],[121.5,8.37],[120.1,8.92],
[128,10.01],[128.9,9.8],[128.9,9.7],[128.9,9.8],[128.8,9.34],[128.8,9.23],[128.8,9.13],[128.8,9.03],[128.8,9.34],[128.8,9.13],[128.8,8.82],[128.6,8.75],[128.8,8.82],[129.4,8.56],[129.4,8.46],[129.4,8.56],[128,8.35],[128,8.35],
[140.7,10.34],[140.7,10.14],[140.7,9.7],[140.7,9.34],[140.7,9.23],[140.7,9.13],[140.7,9],[140.7,8.87],[140.7,8.66],[140.7,8.56],[140.7,8.46],[140.7,8.35],[140.7,9.13],[140.7,8.56],[140.7,8.87],[140.7,9.34],[140.7,8.46],[140.7,9.23],[140.7,9],[140.7,8.66],[140.7,8.35],
[147.3,9.1],[147.3,9],[147.3,9.1],[147.3,8.72],[147.3,8.61],[147.3,8.51],[147.3,8.43],[147.3,8.72],[147.3,8.51],[147.3,8.61],[147.3,8.43],[147.3,9],
[150.3,10.04],[150.3,9.6],[150.3,9.49],[150.3,9.34],[150.8,9.27],[151.4,9.3],[152,9.25],[150.8,9.27],[150.3,9.1],[150.3,9],[150.3,8.76],[150.3,8.64],[150.3,8.5],[150.3,8.76],[150.3,8.64],[150.3,8.5],[150.3,9.6],[150.3,9.34],[151.4,9.3],[152,9.25],
[161.7,10.22],[161.7,9.75],[161.7,9.61],[161.7,9.08],[161.7,8.96],[161.7,9.08],[161.7,8.41],[170.9,9.11],[170.3,8.84],[170.9,8.72],[170.6,8.8],[167.4,8.66],
[180.5,9.39],[180.5,9.23],[180.5,9.11],[180.5,8.82],[180.5,8.44],[180.5,9.39],[184.6,9.6],[184.6,9.45],[184.6,9.34],[184.6,9.23],[184.6,9.08],[184.6,9],[184.6,9.6],[184.6,9.34],[184.6,8.77],[184.6,8.66],[184.6,8.37],[184.6,8.77],[184.6,8.37],[188.4,9.4],[184.6,9.23],[184.6,9.45],
[190.5,9.03],[190.5,8.87],[190.5,8.61],[190.5,8.51],[190.5,8.41],[190.5,8.33],[190.5,8.61],[190.5,8.51],[190.5,8.41],[190.5,9.03],[190.5,8.33],[190.5,8.87],[192.8,8.82],[192.8,8.66],[192.8,8.52],[192.8,8.39],[192.8,8.52],[192.8,8.39],[192.8,8.66],[198,9.57],[198,9.32],[198,9.23],[198,8.92],[198.3,8.77],[198,9.32],[198,8.92],[198,9.57]
];
const chr5Ld: P[] = [
[13.37,126,170.2],[13.22,126,171.3],[13.14,102.9,140.4],[12.93,120.5,140.4],[12.78,126,164.8],[12.7,120.5,170.2],[12.62,120.5,164.8],[12.55,120.5,155.5],[12.48,120.5,171.3],[12.44,100.6,126],[12.39,120.5,150],[12.24,126,163.7],[12.13,126,163.7],[12.03,91.3,126],[12,126,180.2],[11.95,120.5,126],[11.89,126,184.3],[11.82,126,172],[11.77,91.3,126],[11.74,126,172],[11.67,120,180.2],[11.64,90.7,120.5],[11.56,102.9,112],[11.53,126,190.5],[11.5,91.3,172],[11.41,91.3,172],[11.33,102.9,172.6],[11.25,100.6,180.9],[11.17,80.3,180.9],[11.08,100.6,196.7],[11,100.6,193.2],[10.92,91.3,193.2],[10.83,91.3,189.8],[10.75,100.6,189.8],[10.66,90.3,190.5],[10.53,90.3,210.3],[10.6,100.6,181],[10.45,90.3,189.1],[10.35,90.3,184.3],[10.26,90.3,189.1],[10.17,100.6,184.3],[10.08,100.6,198],[10,100.6,184.5],[9.92,100.6,184.5],[9.84,100.6,184.5],[9.75,80.3,184.5],[9.66,76.6,184.5],[9.57,76.6,184.5],[9.48,75.9,184.5],[9.39,76.6,184.5],[9.3,91.3,184.5],[9.21,78.7,211],[9.12,76.3,184.5],[9.03,76.3,210.3],[8.94,75.9,184.5],[8.88,91.3,210.3],[8.8,43.7,76],[8.78,91.3,184.5],[8.7,91.3,184.5],[8.62,75.9,100],[8.6,91.3,184.5],[8.53,91.3,184.5],[8.45,91.3,184.5],[8.41,75.9,211.4],[8.34,91.3,184.5]
];
const chr5Purple: P[] = [[9.77,188.4,207],[9.6,172.4,189.4],[9.51,184,198],[9.26,153.8,198],[8.75,153.8,189.8]];
const chr5Dash = [196.9, 199.5];
const chr5Blocks: P[] = [[13.9,35.2],[36.8,41.6],[45.7,54.4],[56.4,67],[72.9,74.5],[94.9,113],[118.4,134.2],[137.7,141.8],[143.8,170.8],[178.2,186.8],[191.9,196],[197,199.6],[203.5,207],[213.4,227.8],[229.6,231.7],[234.4,240.2],[251.5,259],[261,273.5]];
const chr5Marks = [6.4,7.6,11.5,14.9,18.3,21.3,25.2,27.2,30.7,35,37.8,40.9,46.2,48.1,49,50.7,54.3,58.1,66.7,74.6,77.4,95.3,99.9,102.7,112.7,113.4,118.4,125.3,128.7,133.5,137.9,139.7,143.8,148.6,150.3,153.4,155.1,158.3,160.6,163.1,168.5,178.1,180.9,191.9,206.5,213.4,217.5,220.2,223,225.1,230.6,235.7,237.8,240.1,246.4,251.5,252.9,254.3,256.3,258.6,261.1,262.2,262.7,264.5,270,273];

// ---------- marks ----------
const NoMark = () => null;
const dot = (fill: string, opacity: number) => (p: any) => (
  <circle cx={p.cx} cy={p.cy} r={2.6} fill={fill} fillOpacity={opacity} />
);
const tri = (fill: string, opacity: number) => (p: any) => (
  <path d={`M${p.cx},${p.cy - 3.2}L${p.cx + 3.1},${p.cy + 2.2}L${p.cx - 3.1},${p.cy + 2.2}Z`} fill={fill} fillOpacity={opacity} />
);
const BlueDot = dot("#5b9bc9", 0.5);
const RedDot = dot("#d0101c", 0.6);
const Orange = tri("#e8a90c", 0.85);
const Green = tri("#1b9e77", 0.85);
const Black = tri("#000000", 0.6);
const Navy = tri("#2d2dd0", 0.85);
const Teal = tri("#2f8f8f", 0.75);

interface PanelProps {
  start: number; domain: [number, number]; yDomain: [number, number];
  ticks: number[]; tickLabels?: string[]; yTicks: number[];
  blue: P[]; red: P[]; groups: { data: P[]; shape: any }[];
  ld: P[]; purple: P[]; dash: number[]; blocks: P[]; marks: number[];
  trackBottom: number; top: number; height: number; marginTop: number; axisHeight: number;
  letter: string; chr: number; labelY: number; letterY: number; titleY: number; lastDx: number;
}

function Panel(props: PanelProps) {
  const { start, ticks, yTicks, tickLabels } = props;
  const X = (k: number) => start + k * 1000;
  const pts = (a: P[]) => a.map((d) => ({ x: X(d[0]), y: d[1] }));
  const seg = (d: P) => [{ x: X(d[1]), y: d[0] }, { x: X(d[2]), y: d[0] }];
  const [xa, xb] = [X(props.domain[0]), X(props.domain[1])];
  const xTick = (p: any) => {
    const i = ticks.indexOf(p.payload.value);
    const dx = i === ticks.length - 1 ? props.lastDx : 0;
    return (
      <text x={p.x + dx} y={p.y + 12} textAnchor="middle" fontSize={13.5} fontFamily={FONT} fill="#111">
        {tickLabels ? tickLabels[i] : String(p.payload.value)}
      </text>
    );
  };
  return (
    <div style={{ position: "absolute", left: 0, top: props.top }}>
      <ScatterChart width={780} height={props.height} margin={{ top: props.marginTop, right: 37, bottom: 0, left: 0 }}>
        <XAxis type="number" dataKey="x" domain={[xa, xb]} allowDataOverflow ticks={ticks} interval={0}
          tick={xTick} tickSize={4} tickLine={{ stroke: "#555" }} axisLine={false} height={props.axisHeight} />
        <YAxis type="number" dataKey="y" domain={props.yDomain} allowDataOverflow ticks={yTicks} interval={0} width={68}
          tick={{ fontSize: 14, fontFamily: FONT, fill: "#111" }} tickSize={4} tickLine={{ stroke: "#555" }} axisLine={false} />
        {props.blocks.map((b, i) => (
          <ReferenceArea key={"b" + i} x1={X(b[0])} x2={X(b[1])} y1={props.trackBottom} y2={0} fill="#bdbdbd" fillOpacity={1} stroke="none" />
        ))}
        {props.ld.map((d, i) => (
          <Scatter key={"l" + i} data={seg(d)} line={{ stroke: "#bdbdbd", strokeWidth: 3.3 }} shape={NoMark} isAnimationActive={false} />
        ))}
        {props.purple.map((d, i) => (
          <Scatter key={"p" + i} data={seg(d)} line={{ stroke: "#b400e0", strokeWidth: 2.6 }} shape={NoMark} isAnimationActive={false} />
        ))}
        <Scatter data={pts(props.blue)} shape={BlueDot} isAnimationActive={false} />
        <Scatter data={pts(props.red)} shape={RedDot} isAnimationActive={false} />
        {props.groups.map((g, i) => (
          <Scatter key={"g" + i} data={pts(g.data)} shape={g.shape} isAnimationActive={false} />
        ))}
        {props.marks.map((m, i) => (
          <ReferenceLine key={"m" + i} segment={[{ x: X(m), y: 0 }, { x: X(m), y: props.trackBottom }]} stroke="#e01010" strokeWidth={1.4} />
        ))}
        <ReferenceLine y={8.3} stroke="#2222cc" strokeWidth={1.3} strokeDasharray="8 2 2 2" />
        <ReferenceLine y={7.19} stroke="#cc2222" strokeWidth={1.2} strokeDasharray="8 2 2 2" />
        {props.dash.map((d, i) => (
          <ReferenceLine key={"d" + i} x={X(d)} stroke="#bb22dd" strokeWidth={1.4} strokeDasharray="7 2.5" />
        ))}
        <ReferenceArea x1={xa} x2={xb} y1={props.yDomain[0]} y2={props.yDomain[1]} fillOpacity={0} stroke="#555" strokeWidth={1.8} />
      </ScatterChart>
      <svg width={780} height={props.height} style={{ position: "absolute", left: 0, top: 0, pointerEvents: "none" }}>
        <text x={2} y={props.letterY} fontFamily={FONT} fontWeight="bold" fontSize={17} fill="#000">{props.letter}</text>
        <text x={405.5} y={props.titleY} textAnchor="middle" fontFamily={FONT} fontSize={16} fill="#111">{`SNP position on chromosome ${props.chr}`}</text>
        <text transform={`translate(39,${props.labelY}) rotate(-90)`} textAnchor="middle" fontFamily={FONT} fontSize={16} fill="#111">
          −log<tspan fontSize={11} dy={4}>10</tspan><tspan dy={-4}>(</tspan><tspan fontStyle="italic">p</tspan>)
        </text>
      </svg>
    </div>
  );
}

export default function App() {
  return (
    <div style={{ position: "absolute", left: 0, top: 0, width: 780, height: 1141, background: "#fff" }}>
      <Panel start={chr1Start} domain={[-1.9, 211.7]} yDomain={[-0.634, 10.36]} ticks={chr1Ticks} yTicks={chr1YTicks}
        blue={[...chr1Blue, ...chr1BlueDense]} red={chr1Red}
        groups={[{ data: chr1Orange, shape: Orange }, { data: chr1Green, shape: Green }, { data: chr1Navy, shape: Navy }]}
        ld={chr1Ld} purple={chr1Purple} dash={chr1Dash} blocks={chr1Blocks} marks={chr1Marks}
        trackBottom={-0.32} top={0} height={560} marginTop={1} axisHeight={39} lastDx={-1}
        letter="A" chr={1} labelY={261} letterY={16} titleY={557} />
      <Panel start={chr5Start} domain={[-2.67, 274.7]} yDomain={[-0.776, 15.5]} ticks={chr5Ticks} tickLabels={chr5TickLabels} yTicks={chr5YTicks}
        blue={[...chr5Blue, ...chr5BlueDense]} red={chr5Red}
        groups={[{ data: chr5Green, shape: Green }, { data: chr5Orange, shape: Orange }, { data: chr5Black, shape: Black }, { data: chr5Teal, shape: Teal }]}
        ld={chr5Ld} purple={chr5Purple} dash={chr5Dash} blocks={chr5Blocks} marks={chr5Marks}
        trackBottom={-0.34} top={560} height={581} marginTop={15} axisHeight={42} lastDx={7}
        letter="B" chr={5} labelY={277} letterY={18} titleY={576} />
    </div>
  );
}
